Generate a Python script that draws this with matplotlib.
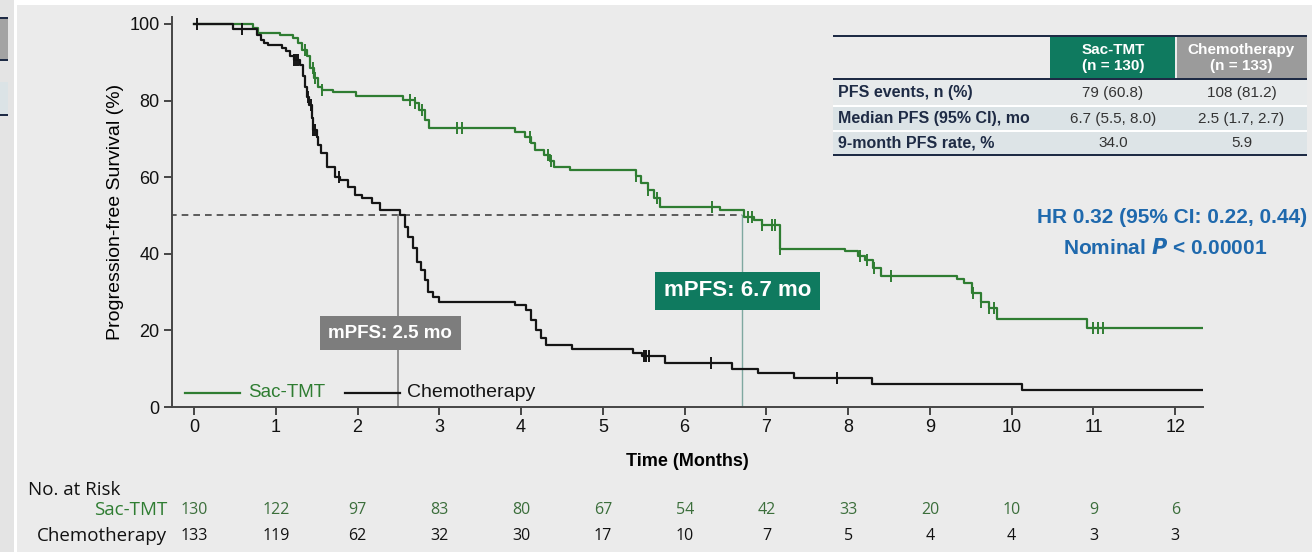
import numpy as np
import matplotlib.pyplot as plt
from matplotlib.patches import Rectangle

plt.rcParams['font.family'] = ['Liberation Sans', 'DejaVu Sans']

# Kaplan-Meier step data (time in months, PFS %)
sac_times = [0, 0.72, 0.78, 1.05, 1.21, 1.27, 1.32, 1.38, 1.42, 1.47, 1.52, 1.56, 1.70, 1.98,
             2.55, 2.70, 2.75, 2.82, 2.87, 3.93, 4.05, 4.12, 4.17, 4.28, 4.35, 4.40, 4.60,
             5.40, 5.47, 5.55, 5.62, 5.70, 6.43, 6.72, 6.85, 6.95, 7.17, 7.96, 8.12, 8.20,
             8.30, 8.40, 9.33, 9.42, 9.52, 9.62, 9.72, 9.82, 10.92]
sac_surv = [100, 98.9, 97.7, 97.1, 96.2, 95.0, 93.2, 91.5, 88.5, 86.0, 83.6, 82.8, 82.1, 81.2,
            80.2, 79.3, 77.5, 75.0, 72.8, 71.9, 70.6, 68.8, 67.1, 65.8, 64.2, 62.6, 61.9,
            60.2, 58.4, 56.7, 54.5, 52.3, 51.4, 49.7, 48.8, 47.5, 41.2, 40.6, 39.5, 38.4,
            36.3, 34.2, 33.3, 32.3, 29.7, 27.5, 25.8, 22.9, 20.5]
sac_censor = [1.36, 1.45, 1.48, 1.56, 2.64, 2.70, 2.79, 3.22, 3.28, 4.11, 4.33, 4.36, 5.40,
              5.55, 5.66, 6.33, 6.78, 6.82, 6.95, 7.07, 7.11, 7.17, 8.15, 8.23, 8.31, 8.52,
              9.53, 9.62, 9.72, 9.78, 11.0, 11.06, 11.12]

chemo_times = [0, 0.48, 0.77, 0.82, 0.86, 0.90, 1.07, 1.12, 1.17, 1.22, 1.30, 1.33, 1.36,
               1.38, 1.41, 1.44, 1.45, 1.50, 1.52, 1.55, 1.62, 1.72, 1.78, 1.88, 1.97, 2.05,
               2.18, 2.28, 2.52, 2.58, 2.62, 2.68, 2.73, 2.78, 2.82, 2.86, 2.92, 3.00, 3.93,
               4.06, 4.12, 4.18, 4.24, 4.30, 4.62, 5.37, 5.48, 5.76, 6.58, 6.90, 7.34, 8.29,
               10.13]
chemo_surv = [100, 98.6, 97.0, 95.8, 95.0, 94.5, 93.6, 92.8, 91.5, 90.6, 89.3, 86.5, 83.5,
              81.0, 78.9, 75.5, 72.3, 70.6, 68.5, 66.3, 62.7, 60.1, 59.3, 57.5, 55.4, 54.5,
              53.2, 51.4, 50.1, 47.1, 44.5, 41.4, 37.9, 35.8, 33.2, 30.1, 28.8, 27.5, 26.6,
              25.3, 22.7, 20.1, 17.9, 16.2, 15.1, 14.0, 13.3, 11.4, 9.9, 8.8, 7.5, 6.1, 4.5]
chemo_censor = [0.03, 0.59, 1.22, 1.25, 1.27, 1.39, 1.43, 1.46, 1.48, 1.77, 5.50, 5.53,
                5.56, 6.32, 7.86]

t_end = 12.35
median_sac = 6.7
median_chemo = 2.5

# Number at risk
risk_times = list(range(13))
sac_risk = [130, 122, 97, 83, 80, 67, 54, 42, 33, 20, 10, 9, 6]
chemo_risk = [133, 119, 62, 32, 30, 17, 10, 7, 5, 4, 4, 3, 3]

# Summary table
table_cols = ['Sac-TMT\n(n = 130)', 'Chemotherapy\n(n = 133)']
table_rows = ['PFS events, n (%)', 'Median PFS (95% CI), mo', '9-month PFS rate, %']
table_sac = ['79 (60.8)', '6.7 (5.5, 8.0)', '34.0']
table_chemo = ['108 (81.2)', '2.5 (1.7, 2.7)', '5.9']

GREEN = '#2f7d32'
TEAL = '#0f7a5f'
BG = '#ebebeb'
NAVY = '#1e2b45'

W, H = 1312, 552
fig = plt.figure(figsize=(W / 100, H / 100), dpi=100, facecolor=BG)


def fx(px):
    return px / W


def fy(py):
    return 1 - py / H


def frect(x0, y0, x1, y1, **kw):
    fig.patches.append(Rectangle((fx(x0), fy(y1)), fx(x1) - fx(x0), fy(y0) - fy(y1),
                                 transform=fig.transFigure, **kw))


# page edges of the slide
frect(0, 0, W, 5, facecolor='white', edgecolor='none', zorder=0)
frect(0, 0, 17, H, facecolor='#e4e4e4', edgecolor='none', zorder=0)
frect(14, 0, 17, H, facecolor='white', edgecolor='none', zorder=0)
frect(0, 18, 8, 60, facecolor='#a3a3a3', edgecolor='none', zorder=1)
frect(0, 17, 8, 19, facecolor=NAVY, edgecolor='none', zorder=1)
frect(0, 59, 8, 61, facecolor=NAVY, edgecolor='none', zorder=1)
frect(0, 82, 8, 114, facecolor='#dbe3e6', edgecolor='none', zorder=1)
frect(0, 114, 8, 116, facecolor=NAVY, edgecolor='none', zorder=1)

ax = fig.add_axes([fx(172), fy(407), fx(1203) - fx(172), fy(17) - fy(407)])
ax.set_facecolor(BG)


def step_value(times, surv, t):
    i = np.searchsorted(np.asarray(times), t, side='right') - 1
    return np.asarray(surv)[i]


def draw_km(times, surv, censor, color):
    xs = list(times) + [t_end]
    ys = list(surv) + [surv[-1]]
    ax.step(xs, ys, where='post', color=color, lw=1.6, zorder=3)
    cy = [step_value(times, surv, c) for c in censor]
    ax.plot(censor, cy, ls='none', marker='|', ms=9, mew=1.4, color=color, zorder=4)


draw_km(sac_times, sac_surv, sac_censor, GREEN)
draw_km(chemo_times, chemo_surv, chemo_censor, '#151515')

# median reference lines
ax.plot([-0.3, median_sac], [50, 50], ls=(0, (4, 3)), color='#444444', lw=1.2, zorder=2)
ax.plot([median_chemo, median_chemo], [0, 50], color='#808080', lw=1.2, zorder=2)
ax.plot([median_sac, median_sac], [0, 50], color='#7fa8a0', lw=1.0, zorder=2)

ax.set_xlim(-0.27, 12.34)
ax.set_ylim(0, 101.8)
ax.set_xticks(range(13))
ax.set_yticks(range(0, 101, 20))
for s in ['top', 'right']:
    ax.spines[s].set_visible(False)
for s in ['left', 'bottom']:
    ax.spines[s].set_color('#454545')
    ax.spines[s].set_linewidth(1.4)
ax.tick_params(axis='both', direction='out', length=6, width=1.4, color='#454545',
               labelsize=13, labelcolor='#111111', pad=3)
ax.set_xlabel('Time (Months)', fontsize=13, fontweight='bold', labelpad=12)
ax.set_ylabel('Progression-free Survival (%)', fontsize=14, labelpad=4)

# legend drawn inside the axes
ax.plot([-0.11, 0.56], [3.7, 3.7], color=GREEN, lw=1.6)
ax.text(0.66, 3.7, 'Sac-TMT', color=GREEN, fontsize=13.5, va='center')
ax.plot([1.85, 2.52], [3.7, 3.7], color='#151515', lw=1.6)
ax.text(2.6, 3.7, 'Chemotherapy', color='#151515', fontsize=14, va='center')

# median boxes
ax.text(2.4, 19.3, 'mPFS: 2.5 mo', color='white', fontsize=13.5, fontweight='bold',
        ha='center', va='center',
        bbox=dict(boxstyle='square,pad=0.45', facecolor='#7d7d7d', edgecolor='none'))
ax.text(6.65, 30.3, 'mPFS: 6.7 mo', color='white', fontsize=16, fontweight='bold',
        ha='center', va='center',
        bbox=dict(boxstyle='square,pad=0.4', facecolor=TEAL, edgecolor='none'))

# hazard ratio text
HRC = '#1f69ad'
fig.text(fx(1172), fy(217), 'HR 0.32 (95% CI: 0.22, 0.44)', color=HRC, fontsize=15,
         fontweight='bold', ha='center', va='center')
fig.text(fx(1165), fy(248), r'Nominal $\bfit{P}$ < 0.00001', color=HRC, fontsize=15,
         fontweight='bold', ha='center', va='center')

# summary table
tx0, tx1 = 833, 1307
c1, c2, c3 = 1050, 1176, 1307
frect(c1, 37, c2 - 1, 79, facecolor=TEAL, edgecolor='none')
frect(c2 + 1, 37, c3, 79, facecolor='#9b9b9b', edgecolor='none')
row_edges = [80, 106, 131, 155]
row_fill = ['#e7eaeb', '#dbe3e6', '#dde4e7']
for i in range(3):
    frect(tx0, row_edges[i], tx1, row_edges[i + 1], facecolor=row_fill[i], edgecolor='none')
    if i > 0:
        frect(tx0, row_edges[i] - 0.7, tx1, row_edges[i] + 0.7, facecolor='white',
              edgecolor='none')
for yl in (36, 79, 155):
    frect(tx0, yl - 1, tx1, yl + 1, facecolor=NAVY, edgecolor='none', zorder=2)
fig.text(fx((c1 + c2) / 2), fy(58), table_cols[0], color='white', fontsize=11,
         fontweight='bold', ha='center', va='center', linespacing=1.1)
fig.text(fx((c2 + c3) / 2), fy(58), table_cols[1], color='white', fontsize=11,
         fontweight='bold', ha='center', va='center', linespacing=1.1)
for i, lab in enumerate(table_rows):
    yc = (row_edges[i] + row_edges[i + 1]) / 2
    fig.text(fx(838), fy(yc), lab, color=NAVY, fontsize=11.5, fontweight='bold', va='center')
    fig.text(fx((c1 + c2) / 2), fy(yc), table_sac[i], color='#333333', fontsize=11,
             ha='center', va='center')
    fig.text(fx((c2 + c3) / 2), fy(yc), table_chemo[i], color='#333333', fontsize=11,
             ha='center', va='center')

# number at risk
RF = ['Open Sans', 'DejaVu Sans']
fig.text(fx(28), fy(490), 'No. at Risk', fontsize=13.5, family=RF, color='#111111',
         va='center')
fig.text(fx(167), fy(510), 'Sac-TMT', fontsize=13.5, family=RF, color=GREEN, va='center',
         ha='right')
fig.text(fx(167), fy(536), 'Chemotherapy', fontsize=13.5, family=RF, color='#111111',
         va='center', ha='right')
for t, a, b in zip(risk_times, sac_risk, chemo_risk):
    xp = ax.transData.transform((t, 0))[0] / fig.bbox.width
    fig.text(xp, fy(510), str(a), fontsize=11.5, family=RF, color='#3b6e3b', ha='center',
             va='center')
    fig.text(xp, fy(536), str(b), fontsize=11.5, family=RF, color='#111111', ha='center',
             va='center')

fig.savefig('out.png', dpi=100, facecolor=BG)
